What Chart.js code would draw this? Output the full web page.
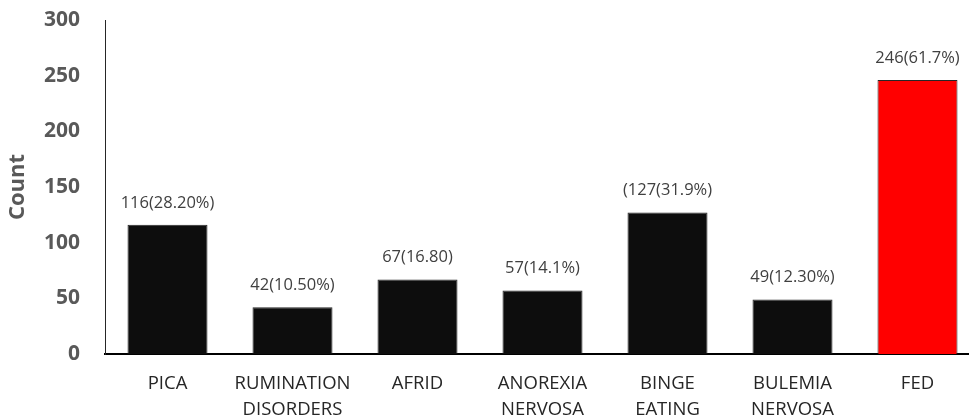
<!DOCTYPE html>
<html>
<head>
<meta charset="utf-8">
<script src="https://cdn.jsdelivr.net/npm/chart.js@4"></script>
<style>
  html, body { margin: 0; padding: 0; background: #fff; overflow: hidden; }
  .wrap { width: 982px; height: 418px; position: relative; }
</style>
</head>
<body>
<div class="wrap"><canvas id="chart1"></canvas></div>
<script>
const categories = [['PICA'], ['RUMINATION', 'DISORDERS'], ['AFRID'], ['ANOREXIA', 'NERVOSA'],
                    ['BINGE', 'EATING'], ['BULEMIA', 'NERVOSA'], ['FED']];
const counts = [116, 42, 67, 57, 127, 49, 246];
const valueLabels = ['116(28.20%)', '42(10.50%)', '67(16.80)', '57(14.1%)',
                     '(127(31.9%)', '49(12.30%)', '246(61.7%)'];
const yTicks = [0, 50, 100, 150, 200, 250, 300];
const highlight = 'FED';

const fontFamily = "'Open Sans', 'Noto Sans', sans-serif";

// draws the count(percent) text above each bar
const barLabels = {
    id: 'barLabels',
    afterDatasetsDraw(chart) {
        const ctx = chart.ctx;
        const meta = chart.getDatasetMeta(0);
        ctx.save();
        ctx.font = '16.5px ' + fontFamily;
        ctx.fillStyle = '#404040';
        ctx.textAlign = 'center';
        ctx.textBaseline = 'middle';
        meta.data.forEach((bar, i) => {
            ctx.fillText(valueLabels[i], bar.x, bar.y - 22);
        });
        ctx.restore();
    }
};

const ctx1 = document.getElementById('chart1').getContext('2d');
let chart1 = new Chart(ctx1, {
    type: 'bar',
    data: {
        labels: categories,
        datasets: [{
            label: 'Count',
            data: counts,
            backgroundColor: (c) => categories[c.dataIndex][0] === highlight ? '#ff0000' : '#0d0d0d',
            borderColor: '#262626',
            borderWidth: 1,
            barPercentage: 0.64,
            categoryPercentage: 1
        }]
    },
    options: {
        responsive: true,
        maintainAspectRatio: false,
        animation: false,
        layout: { padding: { top: 20, right: 2, left: 0, bottom: 0 } },
        plugins: {
            legend: { display: false },
            tooltip: { enabled: false }
        },
        scales: {
            x: {
                grid: { display: false, drawTicks: false },
                border: { color: '#000', width: 2 },
                ticks: {
                    color: '#262626',
                    font: { family: fontFamily, size: 18.5, lineHeight: 1.38 },
                    padding: 17,
                    maxRotation: 0,
                    autoSkip: false
                },
                afterFit: (scale) => { scale.height = 64; }
            },
            y: {
                min: 0,
                max: 300,
                grid: { display: false, drawTicks: false },
                border: { color: '#262626', width: 1 },
                afterBuildTicks: (scale) => { scale.ticks = yTicks.map(v => ({ value: v })); },
                ticks: {
                    color: '#595959',
                    font: { family: fontFamily, size: 21, weight: 'bold' },
                    padding: 25
                },
                title: {
                    display: true,
                    text: 'Count',
                    color: '#595959',
                    font: { family: fontFamily, size: 22, weight: 'bold' },
                    padding: { top: 5, bottom: 0 }
                },
                afterFit: (scale) => {
                    scale.width = 105;
                    // tick padding would otherwise push the plot top down
                    scale.paddingTop = 12;
                    scale.paddingBottom = 12;
                }
            }
        }
    },
    plugins: [barLabels]
});
</script>
</body>
</html>
